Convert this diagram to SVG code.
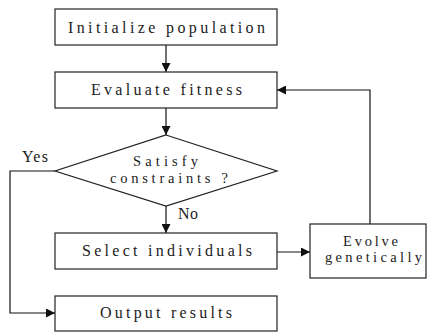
<svg xmlns="http://www.w3.org/2000/svg" width="427" height="332" viewBox="0 0 427 332">
<style>
.n{fill:#fff;stroke:#222;stroke-width:1.2}
.t{font-family:"Liberation Serif","DejaVu Serif",serif;font-size:16px;fill:#222}
.s{font-size:14.5px}
.c{fill:none;stroke:#111;stroke-width:1.2}
</style>
<defs>
<marker id="ah" viewBox="0 0 10 10" refX="10" refY="5" markerWidth="9" markerHeight="9" markerUnits="userSpaceOnUse" orient="auto">
<path d="M0,0 L10,5 L0,10 z" fill="#111"/>
</marker>
</defs>
<rect width="427" height="332" fill="#fff"/>
<g id="connectors">
<line class="c" x1="166" y1="45" x2="166" y2="72" marker-end="url(#ah)"/>
<line class="c" x1="166" y1="108" x2="166" y2="135" marker-end="url(#ah)"/>
<line class="c" x1="166" y1="206" x2="166" y2="233" marker-end="url(#ah)"/>
<polyline class="c" points="55,171 10,171 10,313 55,313" marker-end="url(#ah)"/>
<line class="c" x1="277" y1="252" x2="310" y2="252" marker-end="url(#ah)"/>
<polyline class="c" points="370,224 370,90 277,90" marker-end="url(#ah)"/>
<text class="t" x="22" y="162" textLength="26" lengthAdjust="spacing">Yes</text>
<text class="t" x="178" y="219" textLength="20" lengthAdjust="spacing">No</text>
</g>
<g id="init">
<rect class="n" x="55" y="9" width="222" height="36"/>
<text class="t" x="68" y="33" textLength="197" lengthAdjust="spacing">Initialize population</text>
</g>
<g id="evaluate">
<rect class="n" x="55" y="72" width="222" height="36"/>
<text class="t" x="91" y="95" textLength="151" lengthAdjust="spacing">Evaluate fitness</text>
</g>
<g id="satisfy">
<polygon class="n" points="166,135 277,171 166,206 55,171"/>
<text class="t s" x="133" y="166" textLength="65" lengthAdjust="spacing">Satisfy</text>
<text class="t s" x="110" y="183" textLength="118" lengthAdjust="spacing">constraints ?</text>
</g>
<g id="select">
<rect class="n" x="55" y="233" width="222" height="36"/>
<text class="t" x="82" y="256" textLength="170" lengthAdjust="spacing">Select individuals</text>
</g>
<g id="output">
<rect class="n" x="55" y="296" width="222" height="35"/>
<text class="t" x="100" y="318" textLength="132" lengthAdjust="spacing">Output results</text>
</g>
<g id="evolve">
<rect class="n" x="310" y="224" width="116" height="54"/>
<text class="t s" x="343" y="246" textLength="55" lengthAdjust="spacing">Evolve</text>
<text class="t s" x="325" y="262" textLength="97" lengthAdjust="spacing">genetically</text>
</g>
</svg>
